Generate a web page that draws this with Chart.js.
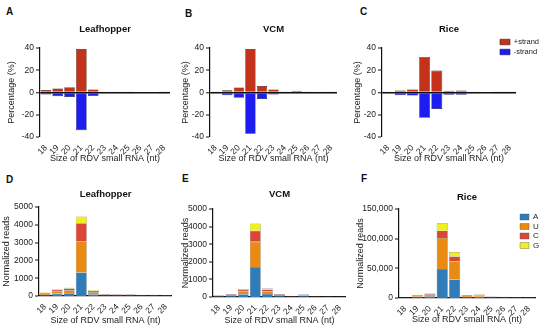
<!DOCTYPE html>
<html>
<head>
<meta charset="utf-8">
<script src="https://cdn.jsdelivr.net/npm/chart.js@4/dist/chart.umd.min.js"></script>
<style>
  body { margin: 0; width: 550px; height: 332px; overflow: hidden; background: #fff; position: relative; font-family: 'Liberation Sans', Arial, sans-serif; }
  canvas { position: absolute; }
  .tag { position: absolute; font-weight: bold; font-size: 10px; color: #111; line-height: 12px; }
</style>
</head>
<body>
<div class="tag" style="left:6px;top:6px">A</div>
<div class="tag" style="left:185px;top:8px">B</div>
<div class="tag" style="left:360px;top:6px">C</div>
<div class="tag" style="left:6px;top:174px">D</div>
<div class="tag" style="left:182px;top:173px">E</div>
<div class="tag" style="left:361px;top:173px">F</div>

<canvas id="pa" width="170" height="150" style="left:0;top:18px"></canvas>
<canvas id="pb" width="167" height="150" style="left:170px;top:18px"></canvas>
<canvas id="pc" width="208" height="150" style="left:342px;top:18px"></canvas>
<canvas id="pd" width="172" height="153" style="left:0;top:177px"></canvas>
<canvas id="pe" width="172" height="151" style="left:174px;top:179px"></canvas>
<canvas id="pf" width="200" height="150" style="left:350px;top:179px"></canvas>

<script>
// size classes on the x axis
const sizes = ['18', '19', '20', '21', '22', '23', '24', '25', '26', '27', '28'];

// percentage of + / - strand reads (top row)
const leafPlus  = [2.2, 3.7, 4.7, 39, 2.8, 1.0, 1.0, 0.8, 0.7, 0.6, 0.5];
const leafMinus = [-1.9, -3.4, -4.0, -34, -3.2, -1.0, -0.9, -0.8, -0.7, -0.6, -0.5];
const vcmPlus   = [0.5, 2.0, 4.5, 39, 5.8, 2.7, 0.5, 1.5, 0.5, 0.5, 0.5];
const vcmMinus  = [-0.5, -2.4, -4.8, -37, -5.8, -1.8, -0.5, -1.0, -0.5, -0.5, -0.5];
const ricePlus  = [0.3, 1.8, 2.7, 32, 19.7, 1.5, 1.8, 1.0, 0.6, 0.5, 0.5];
const riceMinus = [-0.3, -2.4, -2.7, -22.7, -14.8, -2.0, -2.0, -1.0, -0.6, -0.5, -0.5];

// normalized reads by 5' nucleotide (bottom row)
const leafA = [55, 120, 150, 1320, 100, 40, 35, 35, 25, 25, 20];
const leafU = [65, 130, 160, 1735, 110, 45, 40, 40, 25, 25, 20];
const leafC = [45, 90, 110, 1035, 75, 30, 25, 25, 17, 17, 14];
const leafG = [25, 40, 50, 380, 35, 15, 10, 10, 8, 8, 6];

const vcmA = [35, 60, 160, 1700, 170, 60, 25, 55, 18, 14, 10];
const vcmU = [35, 55, 150, 1440, 160, 55, 22, 50, 17, 13, 10];
const vcmC = [25, 35, 90, 620, 100, 35, 15, 30, 10, 8, 6];
const vcmG = [15, 20, 50, 420, 50, 20, 8, 15, 5, 5, 4];

const riceA = [400, 2000, 2800, 49000, 31000, 1800, 2200, 1000, 800, 600, 500];
const riceU = [350, 1900, 2700, 52000, 31000, 1700, 2100, 950, 750, 600, 500];
const riceC = [200, 1100, 1500, 12500, 8000, 1000, 1200, 550, 420, 330, 300];
const riceG = [150, 600, 900, 12500, 7500, 500, 700, 300, 230, 170, 200];

// tick labels
const pctTicks = [-40, -20, 0, 20, 40];
const readTicks = [0, 1000, 2000, 3000, 4000, 5000];
const riceTicks = [0, 50000, 100000, 150000];

const xTitle = 'Size of RDV small RNA (nt)';

Chart.defaults.font.family = "'Liberation Sans', Arial, sans-serif";
Chart.defaults.font.size = 8.5;
Chart.defaults.color = '#222';

// move a chartArea legend to a fixed spot of the canvas
function legendAt(x, y) {
  return {
    id: 'legendAt',
    afterLayout(chart) {
      const l = chart.legend;
      const w = l.right - l.left, h = l.bottom - l.top;
      l.left = x; l.top = y; l.right = x + w; l.bottom = y + h;
    }
  };
}

function baseOptions(o) {
  return {
    responsive: false,
    animation: false,
    layout: { padding: { right: o.padRight || 0 } },
    datasets: { bar: { barPercentage: 0.9, categoryPercentage: 1 } },
    plugins: {
      legend: o.legend || { display: false },
      tooltip: { enabled: false },
      title: {
        display: true, text: o.title, fullSize: false, color: '#111',
        font: { size: 9.5, weight: 'bold' },
        padding: o.titlePad
      }
    },
    scales: {
      x: {
        stacked: true,
        grid: { display: false },
        border: { display: o.xBorder, color: '#111', width: 1.2 },
        ticks: { minRotation: 45, maxRotation: 45, autoSkip: false, padding: -2 },
        title: { display: true, text: xTitle, font: { size: 9 }, padding: { top: 2, bottom: 4 } },
        afterFit: s => { s.height = o.xH; }
      },
      y: {
        stacked: true,
        min: o.ticks[0], max: o.ticks[o.ticks.length - 1],
        afterBuildTicks: s => { s.ticks = o.ticks.map(v => ({ value: v })); },
        grid: {
          color: c => (o.zeroLine && c.tick && c.tick.value === 0) ? '#111' : 'rgba(0,0,0,0)',
          lineWidth: c => (o.zeroLine && c.tick && c.tick.value === 0) ? 1.6 : 0,
          tickColor: '#111', tickWidth: 1, tickLength: 4
        },
        border: { color: '#111', width: 1.2 },
        ticks: { padding: 2, callback: o.fmt || (v => v) },
        title: { display: true, text: o.yTitle, font: { size: 9 }, padding: { top: o.yTitlePad, bottom: 0 } },
        afterFit: s => { s.width = o.yW; },
        z: 1
      }
    }
  };
}

const plusColor = '#c4321c', minusColor = '#1d1df2';

function pctChart(id, title, plus, minus, o) {
  return new Chart(document.getElementById(id), {
    type: 'bar',
    data: {
      labels: sizes,
      datasets: [
        { label: '+strand', data: plus, backgroundColor: plusColor, borderColor: '#4a1a0c', borderWidth: 0.6 },
        { label: '-strand', data: minus, backgroundColor: minusColor, borderColor: '#10106a', borderWidth: 0.6 }
      ]
    },
    options: baseOptions(Object.assign({
      title: title, ticks: pctTicks, yTitle: 'Percentage (%)', zeroLine: true, xBorder: false,
      titlePad: { top: 5.3, bottom: 13.3 }, xH: 31, yW: 40
    }, o)),
    plugins: o.legendPos ? [legendAt(o.legendPos[0], o.legendPos[1])] : []
  });
}

const ntColors = ['#2f7cb8', '#e98b12', '#dc4636', '#eff01c'];

function readChart(id, title, a, u, c, g, o) {
  const series = [a, u, c, g];
  return new Chart(document.getElementById(id), {
    type: 'bar',
    data: {
      labels: sizes,
      datasets: ['A', 'U', 'C', 'G'].map((n, i) => ({
        label: n, data: series[i], backgroundColor: ntColors[i], borderColor: '#555', borderWidth: 0.4
      }))
    },
    options: baseOptions(Object.assign({
      title: title, yTitle: 'Normalized reads', zeroLine: false, xBorder: true
    }, o)),
    plugins: o.legendPos ? [legendAt(o.legendPos[0], o.legendPos[1])] : []
  });
}

pctChart('pa', 'Leafhopper', leafPlus, leafMinus, { yTitlePad: 6.3 });
pctChart('pb', 'VCM', vcmPlus, vcmMinus, { yTitlePad: 10 });
pctChart('pc', 'Rice', ricePlus, riceMinus, {
  yTitlePad: 10, padRight: 34,
  legend: {
    display: true, position: 'chartArea', align: 'start',
    labels: { boxWidth: 10, boxHeight: 5.5, padding: 2.5, font: { size: 7.5 }, color: '#222' }
  },
  legendPos: [155.5, 17.75]
});

readChart('pd', 'Leafhopper', leafA, leafU, leafC, leafG, {
  ticks: readTicks, titlePad: { top: 11.3, bottom: 7.3 }, xH: 34, yW: 39, yTitlePad: 1.6
});
readChart('pe', 'VCM', vcmA, vcmU, vcmC, vcmG, {
  ticks: readTicks, titlePad: { top: 9.3, bottom: 9.3 }, xH: 33, yW: 39, yTitlePad: 6.6
});
readChart('pf', 'Rice', riceA, riceU, riceC, riceG, {
  ticks: riceTicks, titlePad: { top: 12.3, bottom: 6.3 }, xH: 31, yW: 49, yTitlePad: 5.6, padRight: 15,
  fmt: v => v.toLocaleString('en-US'),
  legend: {
    display: true, position: 'chartArea', align: 'start',
    labels: { boxWidth: 9, boxHeight: 6, padding: 1.5, font: { size: 8 }, color: '#222' }
  },
  legendPos: [168.5, 32.5]
});
</script>
</body>
</html>
